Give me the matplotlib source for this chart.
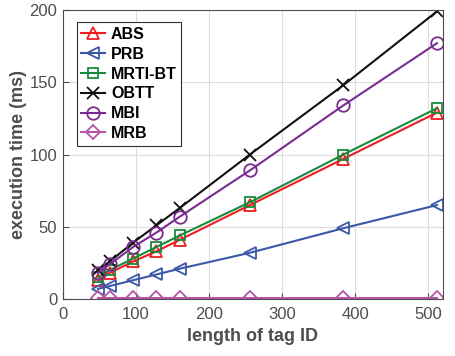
import matplotlib
matplotlib.use("Agg")
import matplotlib.pyplot as plt

plt.rcParams['font.family'] = ['Liberation Sans', 'DejaVu Sans']

tag_len = [48, 64, 96, 128, 160, 256, 384, 512]
abs_t = [13, 18, 26, 33, 41, 65, 97, 129]
prb_t = [7, 9, 13, 17, 21, 32, 49, 65]
mrti_t = [15, 20, 28, 36, 44, 67, 100, 132]
obtt_t = [20, 26, 39, 51, 63, 100, 148, 199]
mbi_t = [18, 24, 36, 46, 57, 89, 134, 177]
mrb_t = [1, 1, 1, 1, 1, 1, 1, 1]

series = [
    ("ABS", abs_t, "#ee1d23", "^"),
    ("PRB", prb_t, "#3b58a8", "<"),
    ("MRTI-BT", mrti_t, "#178a3c", "s"),
    ("OBTT", obtt_t, "#111111", "x"),
    ("MBI", mbi_t, "#7a2b90", "o"),
    ("MRB", mrb_t, "#b655a6", "D"),
]

fig = plt.figure(figsize=(4.56, 3.56), dpi=100)
ax = fig.add_axes([0.138, 0.160, 0.833, 0.812])

for name, y, c, m in series:
    ms = 9
    if m in ("D", "s"):
        ms = 7
    ax.plot(tag_len, y, color=c, marker=m, markersize=ms, markerfacecolor="none",
            markeredgewidth=1.3, linewidth=1.5, label=name)

ax.set_xlim(0, 520)
ax.set_ylim(0, 200)
ax.set_xticks([0, 100, 200, 300, 400, 500])
ax.set_yticks([0, 50, 100, 150, 200])
ax.grid(True, color="#dddddd", linewidth=0.8)
ax.set_axisbelow(True)
ax.tick_params(direction="in", colors="#4d4d4d", labelsize=12, length=4, pad=4)
ax.tick_params(axis="x", pad=6)
for s in ax.spines.values():
    s.set_color("#4d4d4d")
ax.set_xlabel("length of tag ID", fontsize=13, fontweight="bold", color="#4d4d4d",
              labelpad=4)
ax.set_ylabel("execution time (ms)", fontsize=13, fontweight="bold", color="#4d4d4d",
              labelpad=2)

leg = ax.legend(loc="upper left", bbox_to_anchor=(0.015, 0.985), fancybox=False,
                edgecolor="#333333", framealpha=1, handlelength=1.5,
                handletextpad=0.35, borderpad=0.3, labelspacing=0.3,
                prop={"weight": "bold", "size": 11.5})
leg.get_frame().set_linewidth(0.8)

fig.savefig("out.png", dpi=100)
